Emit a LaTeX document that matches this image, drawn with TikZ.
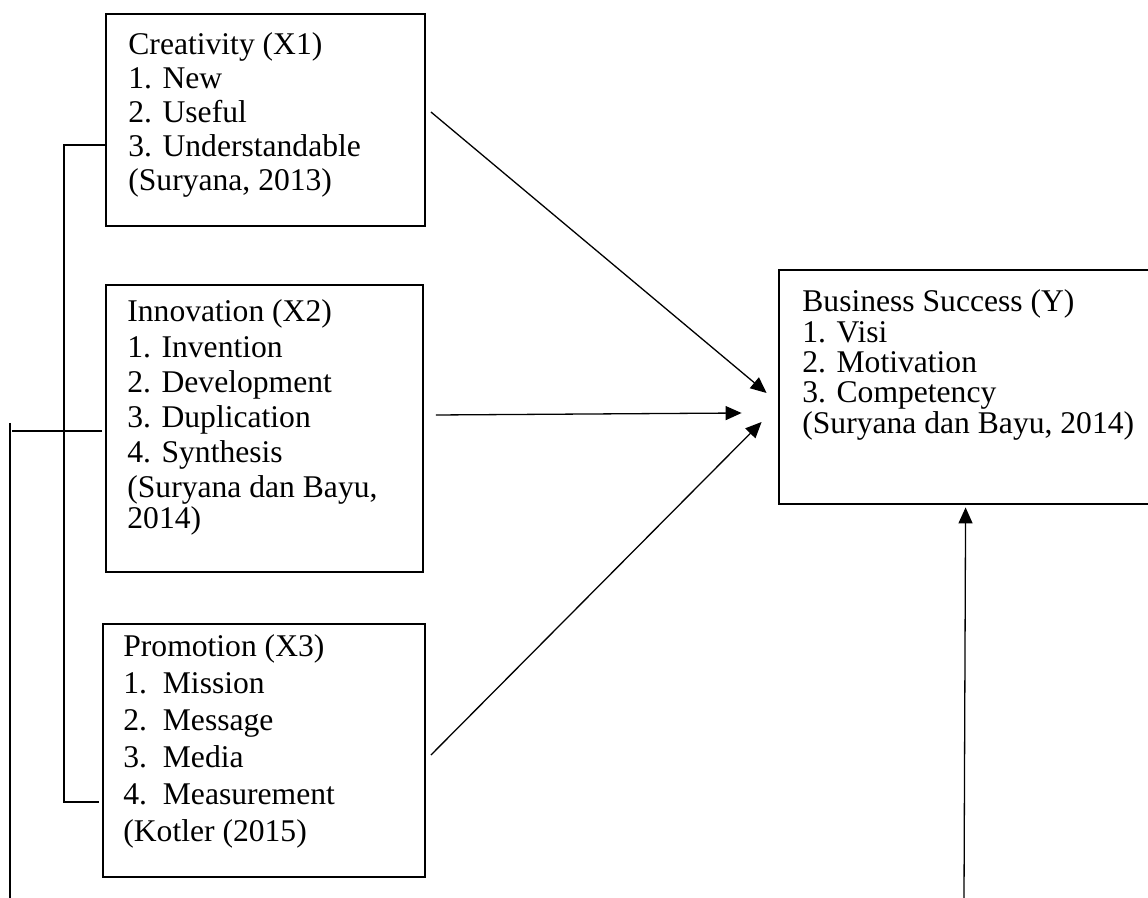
\documentclass[tikz,border=0pt]{standalone}
\usepackage{fontspec}
\setmainfont{Liberation Serif}
\usetikzlibrary{arrows.meta,fit,calc}
\newcommand{\blocktext}[2]{{\fontsize{15.8pt}{#1}\selectfont\begin{tabular}[t]{@{}l@{}}#2\end{tabular}}}
\begin{document}
\begin{tikzpicture}[x=0.5pt,y=-0.5pt,
  box/.style={draw, line width=0.95pt, inner sep=0pt},
  txt/.style={anchor=base west, inner sep=0pt},
  link/.style={line width=0.65pt},
  arr/.style={line width=0.65pt, -{Triangle[length=8pt,width=7pt]}}]
\useasboundingbox (0,0) rectangle (1148,898);
\clip (0,0) rectangle (1148,898);
% boxes
\node[box, fit={(106,14) (425,226)}] (x1) {};
\node[box, fit={(106,285) (423,572)}] (x2) {};
\node[box, fit={(103,624) (425,877)}] (x3) {};
\node[box, line width=1.4pt, fit={(779,270) (1170,504)}] (y) {};
% texts
\node[txt] (x1t) at (128,55) {\blocktext{16.9pt}{Creativity (X1)\\1. New\\2. Useful\\3. Understandable\\(Suryana, 2013)}};
\node[txt] (x2t) at (127,322) {\blocktext{17.6pt}{Innovation (X2)\\1. Invention\\2. Development\\3. Duplication\\4. Synthesis\\(Suryana dan Bayu,\\[-2.4pt]2014)}};
\node[txt] (x3t) at (123,657) {\blocktext{18.5pt}{Promotion (X3)\\1.\ \ Mission\\2.\ \ Message\\3.\ \ Media\\4.\ \ Measurement\\(Kotler (2015)}};
\node[txt] (yt) at (802,312) {\blocktext{15.1pt}{Business Success (Y)\\1. Visi\\2. Motivation\\3. Competency\\(Suryana dan Bayu, 2014)}};
% left brackets
\coordinate (bt) at (64,145);
\coordinate (bb) at (64,802);
\draw[link] ($(x1.west)+(0,25)$) -- (bt) -- (bb) -- ($(x3.west)+(-3,51.5)$);
\coordinate (om) at (12,431);
\draw[link] ($(x2.west)+(-3,2.5)$) -- (om);
\coordinate (ot) at (10,423);
\coordinate (ob) at (10,900);
\draw[link] (ot) -- (ob);
% arrows to Y
\draw[arr] ($(x1.east)+(5,-8)$) -- ($(y.west)+(-11,6)$);
\draw[arr] ($(x2.east)+(12,-13.5)$) -- ($(y.west)+(-36,26)$);
\draw[arr] ($(x3.east)+(5,4.5)$) -- ($(y.west)+(-16,35)$);
\coordinate (yb) at (964,900);
\draw[arr] (yb) -- ($(y.south west)+(188,2)$);
\end{tikzpicture}
\end{document}
